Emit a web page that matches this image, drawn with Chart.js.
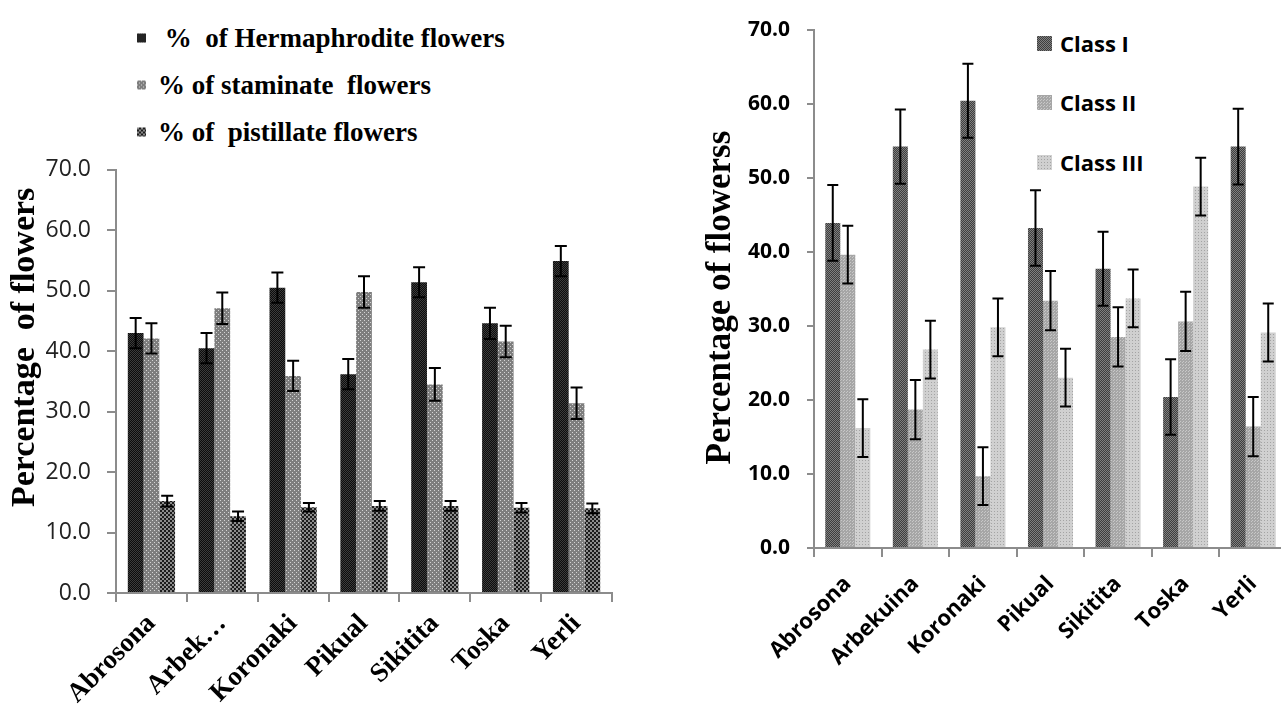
<!DOCTYPE html>
<html>
<head>
<meta charset="utf-8">
<script src="https://cdn.jsdelivr.net/npm/chart.js@4.4.1/dist/chart.umd.min.js"></script>
<style>
html, body { margin: 0; padding: 0; background: #fff; overflow: hidden; width: 1281px; height: 704px; }
.box { position: absolute; }
#leftBox { left: 0; top: 140px; width: 640px; height: 564px; }
#rightBox { left: 690px; top: 0; width: 610px; height: 704px; }
.legend { position: absolute; left: 0; top: 0; color: #000; }
.legend .item { position: absolute; display: flex; align-items: center; white-space: pre; transform: translateY(-50%); }
.legend canvas { display: block; }
#leftLegend { left: 137px; font: bold 27px "Liberation Serif", serif; }
#rightLegend { left: 1037px; font: bold 22px "Open Sans", sans-serif; }
</style>
</head>
<body>
<div id="leftLegend" class="legend"></div>
<div id="rightLegend" class="legend"></div>
<div id="leftBox" class="box"><canvas id="leftChart"></canvas></div>
<div id="rightBox" class="box"><canvas id="rightChart"></canvas></div>
<script>
/* DATA - left chart */
const leftCats = ["Abrosona", "Arbek\u2026", "Koronaki", "Pikual", "Sikitita", "Toska", "Yerli"];
const leftNames = [" %  of Hermaphrodite flowers", "% of staminate  flowers", "% of  pistillate flowers"];
const hermaph = [43.0, 40.5, 50.5, 36.2, 51.4, 44.6, 54.9];
const hermaphErr = [2.5, 2.5, 2.5, 2.5, 2.5, 2.6, 2.5];
const staminate = [42.1, 47.1, 35.9, 49.8, 34.5, 41.6, 31.4];
const staminateErr = [2.5, 2.6, 2.5, 2.6, 2.7, 2.6, 2.6];
const pistillate = [15.2, 12.7, 14.2, 14.4, 14.4, 14.1, 14.0];
const pistillateErr = [0.9, 0.8, 0.7, 0.8, 0.8, 0.8, 0.8];

/* DATA - right chart */
const rightCats = ["Abrosona", "Arbekuina", "Koronaki", "Pikual", "Sikitita", "Toska", "Yerli"];
const rightNames = ["Class I", "Class II", "Class III"];
const class1 = [43.9, 54.2, 60.4, 43.2, 37.7, 20.4, 54.2];
const class1Err = [5.1, 5.0, 5.0, 5.1, 5.0, 5.1, 5.1];
const class2 = [39.6, 18.7, 9.7, 33.4, 28.5, 30.6, 16.4];
const class2Err = [3.9, 4.0, 3.9, 4.0, 4.0, 4.0, 4.0];
const class3 = [16.2, 26.8, 29.8, 23.0, 33.7, 48.8, 29.1];
const class3Err = [3.9, 3.9, 3.9, 3.9, 3.9, 3.9, 3.9];

const yTickLabels = ["0.0", "10.0", "20.0", "30.0", "40.0", "50.0", "60.0", "70.0"];

/* PATTERNS */
function tile(size, base, dot, cells) {
  const c = document.createElement("canvas");
  c.width = c.height = size;
  const x = c.getContext("2d");
  x.fillStyle = base;
  x.fillRect(0, 0, size, size);
  x.fillStyle = dot;
  cells.forEach(([a, b]) => x.fillRect(a, b, 1, 1));
  return c;
}
const ctx0 = document.createElement("canvas").getContext("2d");
const tiles = {
  herm: tile(2, "#0c0c0c", "#3c3c3c", [[0, 0], [1, 1]]),
  stam: tile(4, "#7e7e7e", "#d4d4d4", [[0, 0], [2, 2]]),
  pist: tile(4, "#1c1c1c", "#8c8c8c", [[0, 0], [1, 0], [0, 1], [1, 1], [2, 2], [3, 2], [2, 3], [3, 3]]),
  c1: tile(2, "#3e3e3e", "#808080", [[0, 0], [1, 1]]),
  c2: tile(3, "#a6a6a6", "#c8c8c8", [[1, 1], [0, 2]]),
  c3: tile(3, "#d0d0d0", "#a4a4a4", [[1, 1]]),
};
const pat = {};
for (const k in tiles) pat[k] = ctx0.createPattern(tiles[k], "repeat");

/* LEGENDS */
function buildLegend(el, names, keys, rows, sw, gap) {
  names.forEach((n, i) => {
    const item = document.createElement("div");
    item.className = "item";
    item.style.top = rows[i] + "px";
    const c = document.createElement("canvas");
    c.width = c.height = sw;
    const cx = c.getContext("2d");
    cx.fillStyle = cx.createPattern(tiles[keys[i]], "repeat");
    cx.fillRect(0, 0, sw, sw);
    c.style.marginRight = gap + "px";
    const t = document.createElement("span");
    t.textContent = n;
    item.appendChild(c);
    item.appendChild(t);
    el.appendChild(item);
  });
}
buildLegend(document.getElementById("leftLegend"), leftNames, ["herm", "stam", "pist"], [38, 85, 132], 9, 12);
buildLegend(document.getElementById("rightLegend"), rightNames, ["c1", "c2", "c3"], [43, 102, 162], 15, 8);

/* ERROR BARS */
const errorBarPlugin = {
  id: "errorBars",
  afterDatasetsDraw(chart, args, opts) {
    const ctx = chart.ctx;
    const y = chart.scales.y;
    const h = opts.cap / 2;
    ctx.save();
    ctx.strokeStyle = "#000";
    ctx.lineWidth = opts.lineWidth;
    chart.data.datasets.forEach((ds, i) => {
      const meta = chart.getDatasetMeta(i);
      meta.data.forEach((bar, j) => {
        const v = ds.data[j], e = opts.errors[i][j];
        const top = y.getPixelForValue(v + e);
        const bot = y.getPixelForValue(v - e);
        ctx.beginPath();
        ctx.moveTo(bar.x, top); ctx.lineTo(bar.x, bot);
        ctx.moveTo(bar.x - h, top); ctx.lineTo(bar.x + h, top);
        ctx.moveTo(bar.x - h, bot); ctx.lineTo(bar.x + h, bot);
        ctx.stroke();
      });
    });
    ctx.restore();
  },
};

/* CHARTS */
function makeChart(id, cats, sets, errors, o) {
  return new Chart(document.getElementById(id), {
    type: "bar",
    data: {
      labels: cats,
      datasets: sets.map((s) => ({ label: s[0], data: s[1], backgroundColor: s[2], borderWidth: 0 })),
    },
    options: {
      responsive: true,
      maintainAspectRatio: false,
      animation: false,
      layout: { padding: o.padding },
      datasets: { bar: { categoryPercentage: 0.667, barPercentage: 1 } },
      plugins: {
        legend: { display: false },
        tooltip: { enabled: false },
        errorBars: { errors: errors, cap: o.cap, lineWidth: 2 },
      },
      scales: {
        x: {
          grid: { drawOnChartArea: false, color: "#8c8c8c", lineWidth: 2, tickLength: 9, offset: true },
          border: { color: "#8c8c8c", width: 2 },
          ticks: { autoSkip: false, minRotation: 45, maxRotation: 45, padding: o.xPad, color: "#000", font: o.xFont },
          afterFit(s) { s.height = o.xHeight; },
        },
        y: {
          min: 0,
          max: 70,
          ticks: { stepSize: 10, padding: o.yPad, color: o.yColor, font: o.yFont, callback: (v, i) => yTickLabels[i] },
          grid: { drawOnChartArea: false, color: "#8c8c8c", lineWidth: 2, tickLength: o.yTick },
          border: { color: "#8c8c8c", width: 2 },
          title: {
            display: true,
            text: o.title,
            color: "#000",
            font: o.titleFont,
            padding: { top: o.titlePad, bottom: 0 },
          },
          afterFit(s) { s.width = o.yWidth; },
        },
      },
    },
    plugins: [errorBarPlugin],
  });
}

makeChart("leftChart", leftCats,
  [[leftNames[0], hermaph, pat.herm], [leftNames[1], staminate, pat.stam], [leftNames[2], pistillate, pat.pist]],
  [hermaphErr, staminateErr, pistillateErr],
  {
    padding: { top: 28, right: 28, left: 0, bottom: 0 },
    cap: 12, xPad: 6, xHeight: 111,
    xFont: { family: "Liberation Serif", weight: "bold", size: 27 },
    yPad: 16, yTick: 9, yColor: "#222",
    yFont: { family: "Open Sans", size: 23 },
    title: "        Percentage  of flowers",
    titleFont: { family: "Liberation Serif", weight: "bold", size: 34 },
    titlePad: 5, yWidth: 116,
  });

makeChart("rightChart", rightCats,
  [[rightNames[0], class1, pat.c1], [rightNames[1], class2, pat.c2], [rightNames[2], class3, pat.c3]],
  [class1Err, class2Err, class3Err],
  {
    padding: { top: 17, right: 13, left: 0, bottom: 0 },
    cap: 11, xPad: 14, xHeight: 156,
    xFont: { family: "Open Sans", weight: "bold", size: 22 },
    yPad: 17, yTick: 7, yColor: "#000",
    yFont: { family: "Open Sans", weight: "bold", size: 21 },
    title: "Percentage of flowerss  ",
    titleFont: { family: "Liberation Serif", weight: "bold", size: 35 },
    titlePad: 10, yWidth: 124,
  });
</script>
</body>
</html>
